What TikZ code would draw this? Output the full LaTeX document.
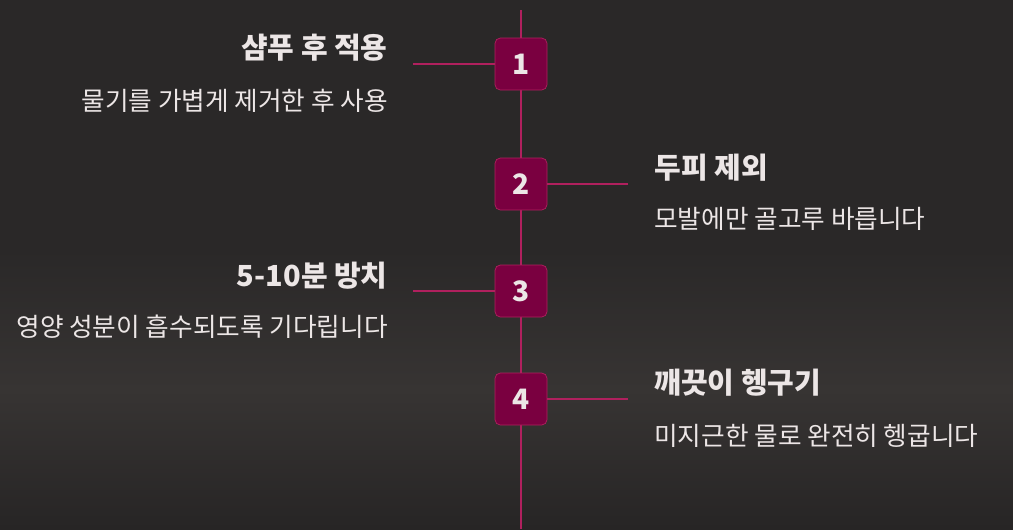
\documentclass[tikz,border=0pt]{standalone}
\usepackage{fontspec}
\setmainfont{Noto Sans CJK KR}
\usetikzlibrary{positioning}
\definecolor{bgtop}{HTML}{2A2828}
\definecolor{bgmid}{HTML}{373433}
\definecolor{bgbot}{HTML}{272525}
\definecolor{stepfill}{HTML}{7A0040}
\definecolor{lineclr}{HTML}{B0205E}
\definecolor{txt}{HTML}{ECE6E6}
\tikzset{stepbox/.style={draw=lineclr, fill=stepfill, rounded corners=3pt, minimum size=1.04cm, text=txt, font=\bfseries\fontsize{16}{18}\selectfont},
  title/.style={text=txt, font=\bfseries\fontsize{16.5}{18}\selectfont, inner sep=0},
  desc/.style={text=txt, font=\fontsize{14.6}{16}\selectfont, inner sep=0},
  link/.style={draw=lineclr, line width=1pt}}

\begin{document}
\begin{tikzpicture}[x=0.02cm, y=-0.02cm]
    \fill[bgtop] (0,0) rectangle (1013,250);
    \shade[top color=bgtop, bottom color=bgmid] (0,249) rectangle (1013,390);
    \shade[top color=bgmid, bottom color=bgbot] (0,389) rectangle (1013,529);
    \useasboundingbox (0,0) rectangle (1013,529);
    % timeline
    \coordinate (top) at (521,10);
    \coordinate (bot) at (521,529);
    \draw[link] (top) -- (bot);
    % steps
    \node[stepbox] (s1) at (521,64) {1};
    \node[stepbox] (s2) at (521,184) {2};
    \node[stepbox] (s3) at (521,291) {3};
    \node[stepbox] (s4) at (521,399) {4};
    \coordinate (e1) at (413,64);
    \coordinate (e2) at (628,184);
    \coordinate (e3) at (413,291);
    \coordinate (e4) at (628,399);
    \draw[link] (s1) -- (e1);
    \draw[link] (s2) -- (e2);
    \draw[link] (s3) -- (e3);
    \draw[link] (s4) -- (e4);
    % texts
    \node[title, anchor=east] (t1) at (388,48) {샴푸 후 적용};
    \node[desc, anchor=east] (d1) at (388,101) {물기를 가볍게 제거한 후 사용};
    \node[title, anchor=west] (t2) at (654,168) {두피 제외};
    \node[desc, anchor=west] (d2) at (654,219) {모발에만 골고루 바릅니다};
    \node[title, anchor=east] (t3) at (388,276) {5-10분 방치};
    \node[desc, anchor=east] (d3) at (388,327) {영양 성분이 흡수되도록 기다립니다};
    \node[title, anchor=west] (t4) at (654,383) {깨끗이 헹구기};
    \node[desc, anchor=west] (d4) at (654,436) {미지근한 물로 완전히 헹굽니다};
\end{tikzpicture}
\end{document}
